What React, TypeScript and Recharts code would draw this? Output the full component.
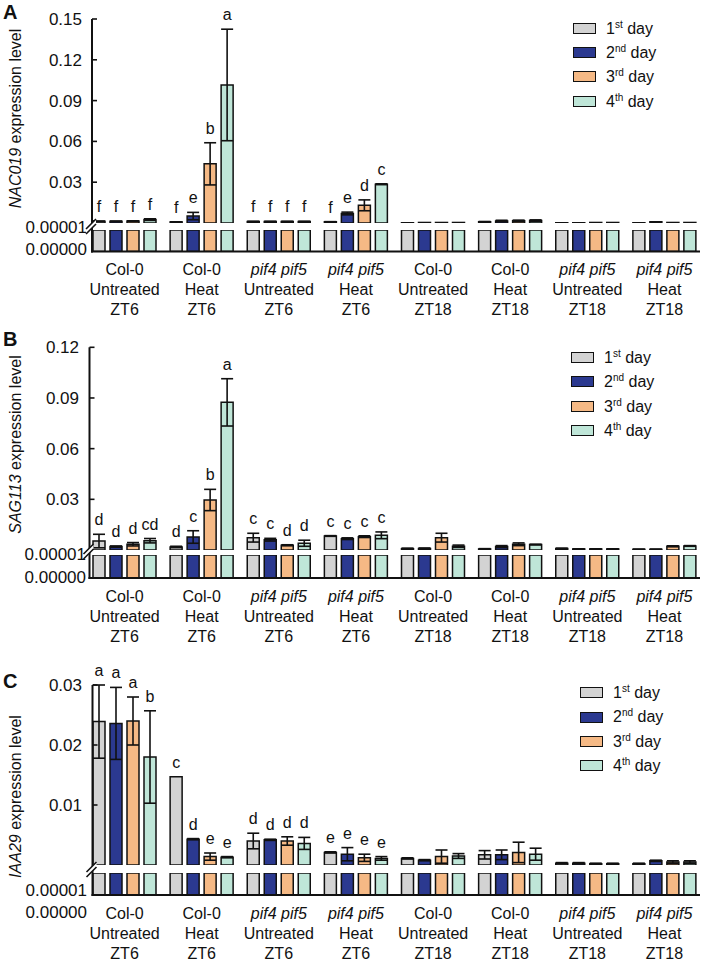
import React from 'react';
import { BarChart, Bar, XAxis, YAxis, ErrorBar, LabelList, Legend } from 'recharts';

const FONT = '"Liberation Sans", Arial, sans-serif';
const W = 703;
const PLOT_LEFT = 86;
const YW = 80;
const LOW_MAX = 0.00001;
const LOW_PAD = 20;

const groupLines = [
  ['Col-0', 'Untreated', 'ZT6'],
  ['Col-0', 'Heat', 'ZT6'],
  ['pif4 pif5', 'Untreated', 'ZT6'],
  ['pif4 pif5', 'Heat', 'ZT6'],
  ['Col-0', 'Untreated', 'ZT18'],
  ['Col-0', 'Heat', 'ZT18'],
  ['pif4 pif5', 'Untreated', 'ZT18'],
  ['pif4 pif5', 'Heat', 'ZT18'],
];
const dayNums = ['1', '2', '3', '4'];
const daySups = ['st', 'nd', 'rd', 'th'];
const dayColors = ['#d3d3d3', '#2b3990', '#f5b985', '#bfe6d8'];

// A - NAC019, one row per day, one value per group
const nacMean = [
  [0.0012, 0.0008, 0.0011, 0.0009, 0.0002, 0.0009, 0.0002, 0.0002],
  [0.0012, 0.0051, 0.0011, 0.0070, 0.0004, 0.0015, 0.0002, 0.0009],
  [0.0014, 0.0435, 0.0011, 0.0130, 0.0004, 0.0016, 0.0004, 0.0004],
  [0.0025, 0.1015, 0.0011, 0.0285, 0.0004, 0.0018, 0.0004, 0.0004],
];
const nacErr = [
  [0.0002, 0.0001, 0.0001, 0.0001, 0, 0.0002, 0, 0],
  [0.0002, 0.0027, 0.0001, 0.0010, 0, 0.0005, 0, 0],
  [0.0002, 0.0155, 0.0001, 0.0040, 0, 0.0005, 0, 0],
  [0.0006, 0.0410, 0.0001, 0.0003, 0, 0.0005, 0, 0],
];
const nacLetters = [
  ['f', 'f', 'f', 'f', '', '', '', ''],
  ['f', 'e', 'f', 'e', '', '', '', ''],
  ['f', 'b', 'f', 'd', '', '', '', ''],
  ['f', 'a', 'f', 'c', '', '', '', ''],
];

// B - SAG113
const sagMean = [
  [0.0053, 0.0018, 0.0073, 0.0083, 0.0008, 0.0006, 0.0009, 0.0004],
  [0.0020, 0.0077, 0.0061, 0.0067, 0.0009, 0.0020, 0.0006, 0.0004],
  [0.0034, 0.0296, 0.0028, 0.0079, 0.0073, 0.0034, 0.0006, 0.0022],
  [0.0055, 0.0874, 0.0040, 0.0087, 0.0022, 0.0032, 0.0006, 0.0024],
];
const sagErr = [
  [0.0040, 0.0004, 0.0026, 0.0002, 0.0003, 0.0002, 0.0002, 0.0001],
  [0.0004, 0.0037, 0.0008, 0.0005, 0.0003, 0.0006, 0.0001, 0.0001],
  [0.0010, 0.0063, 0.0003, 0.0005, 0.0026, 0.0008, 0.0001, 0.0003],
  [0.0013, 0.0140, 0.0018, 0.0020, 0.0007, 0.0002, 0.0001, 0.0002],
];
const sagLetters = [
  ['d', 'd', 'c', 'c', '', '', '', ''],
  ['d', 'c', 'c', 'c', '', '', '', ''],
  ['d', 'b', 'd', 'c', '', '', '', ''],
  ['cd', 'a', 'd', 'c', '', '', '', ''],
];

// C - IAA29
const iaaMean = [
  [0.0239, 0.0147, 0.0040, 0.0021, 0.0011, 0.0017, 0.0003, 0.0002],
  [0.0236, 0.0043, 0.0042, 0.0018, 0.0008, 0.0017, 0.0003, 0.0007],
  [0.0240, 0.0014, 0.0040, 0.0012, 0.0014, 0.0021, 0.0002, 0.0005],
  [0.0180, 0.0013, 0.0036, 0.0011, 0.0015, 0.0018, 0.0002, 0.0005],
];
const iaaErr = [
  [0.0061, 0, 0.0013, 0.0001, 0.0001, 0.0007, 0.0001, 0.0001],
  [0.0060, 0.0001, 0.0001, 0.0011, 0.0001, 0.0008, 0.0001, 0.0001],
  [0.0040, 0.0006, 0.0007, 0.0006, 0.0011, 0.0017, 0.0001, 0.0002],
  [0.0077, 0.0001, 0.0010, 0.0003, 0.0004, 0.0010, 0.0001, 0.0002],
];
const iaaLetters = [
  ['a', 'c', 'd', 'e', '', '', '', ''],
  ['a', 'd', 'd', 'e', '', '', '', ''],
  ['a', 'e', 'd', 'e', '', '', '', ''],
  ['b', 'e', 'd', 'e', '', '', '', ''],
];

const nacTicks = [0.03, 0.06, 0.09, 0.12, 0.15];
const sagTicks = [0.03, 0.06, 0.09, 0.12];
const iaaTicks = [0.01, 0.02, 0.03];
const lowTicks = [0, LOW_MAX];

function Panel(p: any) {
  const rows = groupLines.map((_, i) => {
    const r: any = { name: String(i) };
    for (let k = 0; k < 4; k++) {
      r['v' + k] = p.means[k][i];
      r['e' + k] = p.errs[k][i];
      r['l' + k] = p.letters[k][i];
      r['b' + k] = Math.min(p.means[k][i], LOW_MAX);
    }
    return r;
  });

  const upperH = p.zeroY - p.chartTop;
  const lowPlotH = p.baseY - p.lowerTop;
  const lowBottom = LOW_PAD + lowPlotH;

  const letterContent = (k: number) => (props: any) => {
    const vb = props.viewBox ?? props;
    const { x, y, width, height } = vb;
    const i = props.index;
    if (!props.value || i == null) return null;
    const m = p.means[k][i];
    const px = m > 0 ? (p.errs[k][i] * height) / m : 0;
    return (
      <text x={x + width / 2} y={y - px - 9} textAnchor="middle" fontSize={16} fontFamily={FONT} fill="#111">
        {props.value}
      </text>
    );
  };

  const upperTick = (t: any) => (
    <g>
      <line x1={p.axisX} x2={p.axisX + 5} y1={t.y} y2={t.y} stroke="#111" strokeWidth={1.6} />
      <text x={p.tickRight} y={t.y} dy={6} textAnchor="end" fontSize={17} fontFamily={FONT} fill="#111">
        {Number(t.payload.value).toFixed(p.decimals)}
      </text>
    </g>
  );

  const lowTick = (t: any) => (
    <text x={p.lowRight} y={t.y + p.lowShift} dy={6} textAnchor="end" fontSize={17} fontFamily={FONT} fill="#111">
      {Number(t.payload.value).toFixed(5)}
    </text>
  );

  const groupTick = (t: any) => {
    const lines = groupLines[Number(t.payload.value)];
    return (
      <g>
        {lines.map((s, j) => (
          <text key={j} x={t.x} y={lowBottom + 23.5 + j * 20} textAnchor="middle" fontSize={16} fontFamily={FONT}
            fill="#111" fontStyle={s.startsWith('pif') ? 'italic' : 'normal'}>
            {s}
          </text>
        ))}
      </g>
    );
  };

  const legendContent = (lp: any) => (
    <div style={{ fontFamily: FONT, fontSize: 16, color: '#111' }}>
      {(lp.payload || []).map((e: any, k: number) => (
        <div key={k} style={{ height: p.legendRow, display: 'flex', alignItems: 'center' }}>
          <span style={{ display: 'inline-block', width: 21, height: 9, border: '1.6px solid #111', background: e.color, marginRight: 10 }} />
          <span>{dayNums[k]}<sup style={{ fontSize: 10 }}>{daySups[k]}</sup> day</span>
        </div>
      ))}
    </div>
  );

  const bx = p.axisX;
  const by = p.breakY;

  return (
    <>
      <div style={{ position: 'absolute', left: 0, top: p.chartTop }}>
        <BarChart width={W} height={upperH} data={rows} barSize={12} barGap={5}
          margin={{ top: p.maxY - p.chartTop, right: 0, bottom: 0, left: PLOT_LEFT - YW }}>
          <XAxis dataKey="name" hide />
          <YAxis width={YW} domain={[0, p.yMax]} ticks={p.ticks} interval={0} allowDataOverflow axisLine={false} tickLine={false} tick={upperTick} />
          {[0, 1, 2, 3].map((k) => (
            <Bar key={k} dataKey={'v' + k} name={dayNums[k]} fill={dayColors[k]} stroke="#111" strokeWidth={1.5} isAnimationActive={false}>
              <ErrorBar dataKey={'e' + k} width={6} stroke="#111" strokeWidth={1.6} />
              <LabelList dataKey={'l' + k} content={letterContent(k)} />
            </Bar>
          ))}
          <Legend layout="vertical" align="center" verticalAlign="middle" content={legendContent}
            wrapperStyle={{ left: p.legendLeft, top: p.legendTop - p.chartTop, width: 120 }} />
        </BarChart>
      </div>
      <div style={{ position: 'absolute', left: 0, top: p.lowerTop - LOW_PAD }}>
        <BarChart width={W} height={lowBottom + 70} data={rows} barSize={12} barGap={5}
          margin={{ top: LOW_PAD, right: 0, bottom: 0, left: PLOT_LEFT - YW }}>
          <XAxis dataKey="name" height={70} interval={0} axisLine={false} tickLine={false} tick={groupTick} />
          <YAxis width={YW} domain={[0, LOW_MAX]} ticks={lowTicks} interval={0} allowDataOverflow axisLine={false} tickLine={false} tick={lowTick} />
          {[0, 1, 2, 3].map((k) => (
            <Bar key={k} dataKey={'b' + k} fill={dayColors[k]} stroke="#111" strokeWidth={1.5} isAnimationActive={false} />
          ))}
        </BarChart>
      </div>
      <svg width={W} height={960} style={{ position: 'absolute', left: 0, top: 0, pointerEvents: 'none' }}>
        <line x1={bx} x2={bx} y1={p.maxY} y2={p.baseY + 1} stroke="#111" strokeWidth={2} />
        <line x1={bx - 1} x2={700} y1={p.baseY} y2={p.baseY} stroke="#111" strokeWidth={2} />
        <polygon points={`${bx - 6},${by + 3} ${bx + 4},${by - 7} ${bx + 4},${by - 2} ${bx - 6},${by + 8}`} fill="#fff" />
        <line x1={bx - 6} y1={by + 3} x2={bx + 4} y2={by - 7} stroke="#111" strokeWidth={1.6} />
        <line x1={bx - 6} y1={by + 8} x2={bx + 4} y2={by - 2} stroke="#111" strokeWidth={1.6} />
        <text transform={`translate(21, ${p.titleY}) rotate(-90)`} textAnchor="middle" fontSize={16} fontFamily={FONT} fill="#111">
          <tspan fontStyle="italic">{p.gene}</tspan> expression level
        </text>
        <text x={3} y={p.letterY} fontSize={20} fontWeight="bold" fontFamily={FONT} fill="#111">{p.id}</text>
      </svg>
    </>
  );
}

export default function App() {
  return (
    <div style={{ position: 'absolute', left: 0, top: 0, width: W, height: 960, background: '#fff' }}>
      <Panel id="A" gene="NAC019" means={nacMean} errs={nacErr} letters={nacLetters}
        yMax={0.15} ticks={nacTicks} decimals={2}
        chartTop={0} maxY={19} zeroY={223} lowerTop={230} baseY={251.5}
        axisX={92} tickRight={82} lowRight={87} lowShift={-3} breakY={226}
        legendLeft={573} legendTop={16} legendRow={24.4}
        titleY={118.5} letterY={19} />
      <Panel id="B" gene="SAG113" means={sagMean} errs={sagErr} letters={sagLetters}
        yMax={0.12} ticks={sagTicks} decimals={2}
        chartTop={325} maxY={347.3} zeroY={550} lowerTop={555} baseY={578}
        axisX={89.5} tickRight={79} lowRight={86} lowShift={-1} breakY={551}
        legendLeft={571} legendTop={345.5} legendRow={24.3}
        titleY={444.5} letterY={346} />
      <Panel id="C" gene="IAA29" means={iaaMean} errs={iaaErr} letters={iaaLetters}
        yMax={0.03} ticks={iaaTicks} decimals={2}
        chartTop={650} maxY={685} zeroY={865} lowerTop={873} baseY={895}
        axisX={92.5} tickRight={82} lowRight={87} lowShift={17} breakY={869}
        legendLeft={580} legendTop={680.5} legendRow={24.4}
        titleY={796.5} letterY={688} />
    </div>
  );
}
